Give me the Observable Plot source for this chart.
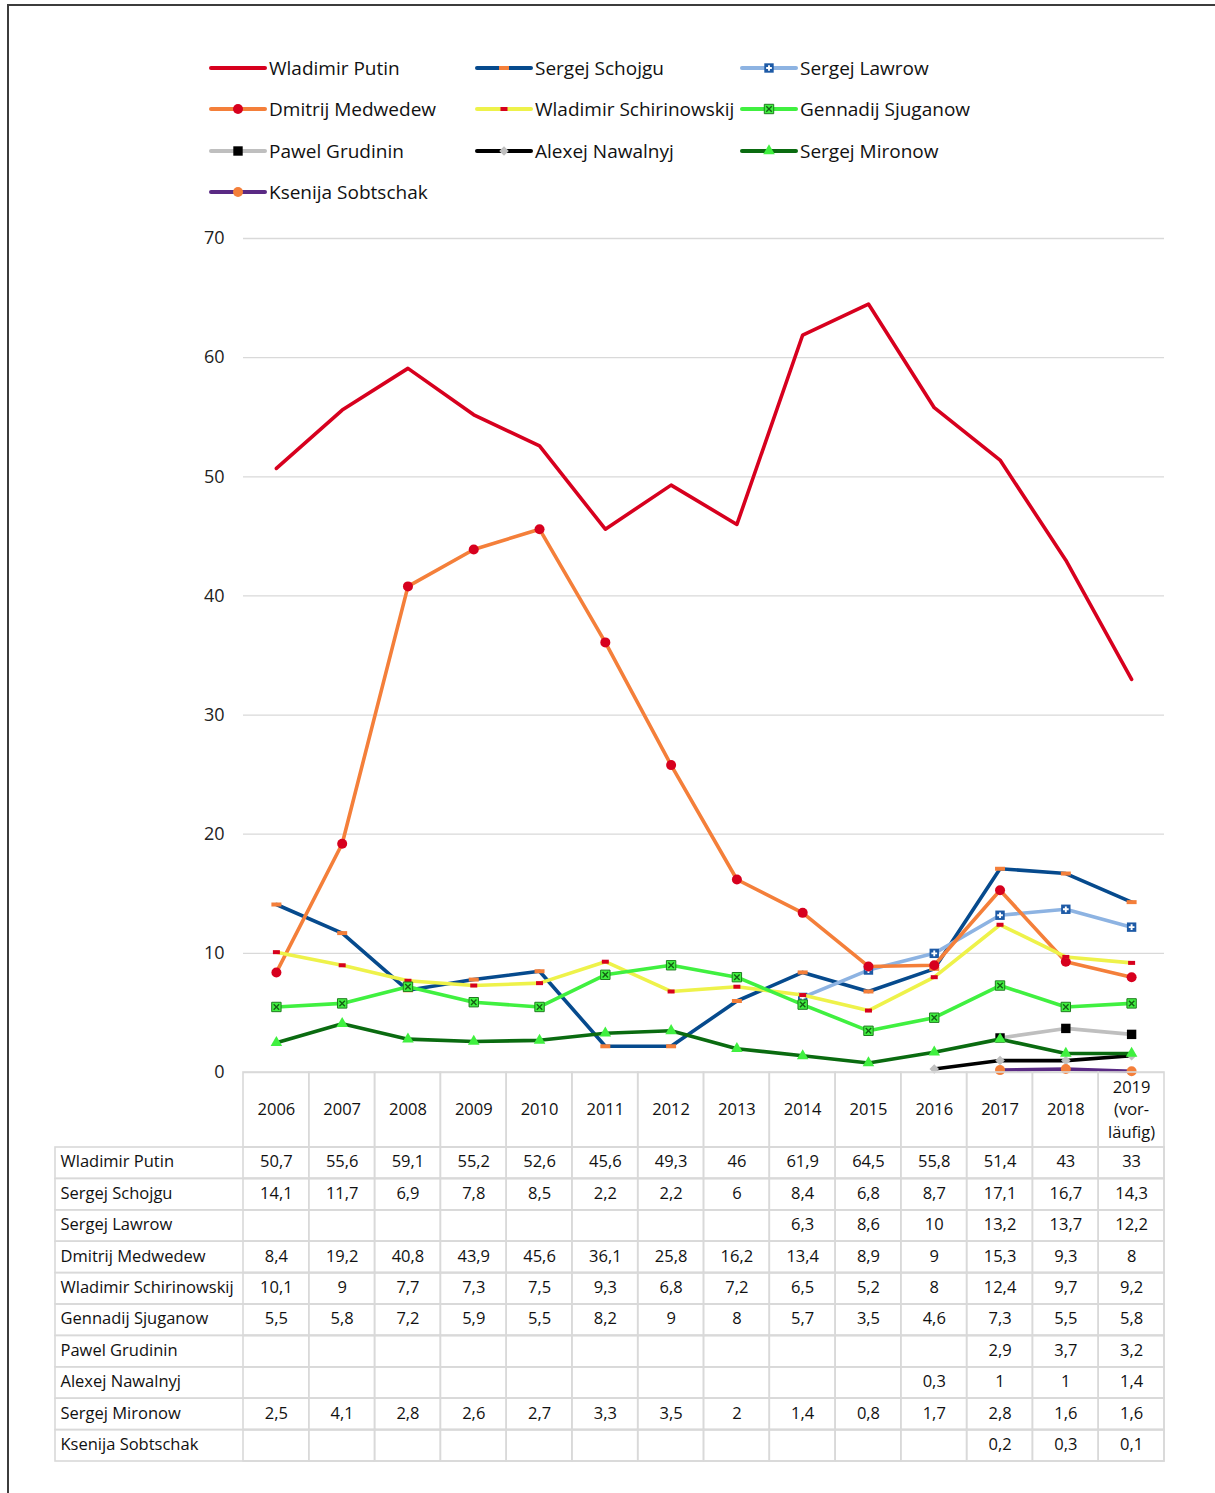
<!DOCTYPE html>
<html><head><meta charset="utf-8">
<script src="https://cdn.jsdelivr.net/npm/d3@7"></script>
<script src="https://cdn.jsdelivr.net/npm/@observablehq/plot@0.6"></script>
<style>
body{margin:0;background:#fff;font-family:"Open Sans",sans-serif;}
#root{position:relative;width:1215px;height:1493px;overflow:hidden;background:#fff;}
#frame{position:absolute;left:7px;top:4px;width:1300px;height:1600px;border-top:2px solid #3c3c3c;border-left:2px solid #3c3c3c;}
.legend-item{position:absolute;display:flex;align-items:center;height:26px;font-size:19px;color:#111;white-space:nowrap;}
.legend-item svg{margin-right:3px;overflow:visible;}
</style></head><body><div id="root"><div id="frame"></div></div>
<script>
// ---------- data ----------
const years = ["2006","2007","2008","2009","2010","2011","2012","2013","2014","2015","2016","2017","2018","2019"];
const yearLabels = ["2006","2007","2008","2009","2010","2011","2012","2013","2014","2015","2016","2017","2018","2019\n(vor-\nläufig)"];
const names = ["Wladimir Putin","Sergej Schojgu","Sergej Lawrow","Dmitrij Medwedew","Wladimir Schirinowskij","Gennadij Sjuganow","Pawel Grudinin","Alexej Nawalnyj","Sergej Mironow","Ksenija Sobtschak"];
const putin        = [50.7,55.6,59.1,55.2,52.6,45.6,49.3,46,61.9,64.5,55.8,51.4,43,33];
const schojgu      = [14.1,11.7,6.9,7.8,8.5,2.2,2.2,6,8.4,6.8,8.7,17.1,16.7,14.3];
const lawrow       = [null,null,null,null,null,null,null,null,6.3,8.6,10,13.2,13.7,12.2];
const medwedew     = [8.4,19.2,40.8,43.9,45.6,36.1,25.8,16.2,13.4,8.9,9,15.3,9.3,8];
const schirinowskij= [10.1,9,7.7,7.3,7.5,9.3,6.8,7.2,6.5,5.2,8,12.4,9.7,9.2];
const sjuganow     = [5.5,5.8,7.2,5.9,5.5,8.2,9,8,5.7,3.5,4.6,7.3,5.5,5.8];
const grudinin     = [null,null,null,null,null,null,null,null,null,null,null,2.9,3.7,3.2];
const nawalnyj     = [null,null,null,null,null,null,null,null,null,null,0.3,1,1,1.4];
const mironow      = [2.5,4.1,2.8,2.6,2.7,3.3,3.5,2,1.4,0.8,1.7,2.8,1.6,1.6];
const sobtschak    = [null,null,null,null,null,null,null,null,null,null,null,0.2,0.3,0.1];
const yTicks = [0,10,20,30,40,50,60,70];

// ---------- styles ----------
const allValues = [putin,schojgu,lawrow,medwedew,schirinowskij,sjuganow,grudinin,nawalnyj,mironow,sobtschak];
const dash = (w,h) => ({draw(ctx){ctx.rect(-w/2,-h/2,w,h);}});
const styles = [
  {color:"#d7001e", markers:[]},
  {color:"#064a8d", markers:[{symbol:dash(10,4), fill:"#f47f3a", r:4}]},
  {color:"#8db3e2", markers:[{symbol:"square", fill:"#1d5aa6", r:5.3},{symbol:"cross", fill:"#ffffff", r:2.4}]},
  {color:"#f47f3a", markers:[{symbol:"circle", fill:"#d7001e", r:5}]},
  {color:"#eef24a", markers:[{symbol:dash(7,4), fill:"#d7001e", r:4}]},
  {color:"#40f040", markers:[{symbol:"square", fill:"#40f040", stroke:"#1e7d1e", sw:1, r:5.3},{symbol:"times", fill:"none", stroke:"#146014", sw:1.4, r:2.6}]},
  {color:"#bfbfbf", markers:[{symbol:"square", fill:"#000000", r:5.3}]},
  {color:"#000000", markers:[{symbol:"diamond2", fill:"#bfbfbf", r:4.3}]},
  {color:"#0a6b10", markers:[{symbol:"triangle", fill:"#40f040", r:4.3}]},
  {color:"#5a2a84", markers:[{symbol:"circle", fill:"#f47f3a", r:5}]}
];
const symbolMap = {square:d3.symbolSquare, cross:d3.symbolCross, circle:d3.symbolCircle, times:d3.symbolTimes, diamond2:d3.symbolDiamond2, triangle:d3.symbolTriangle};

const root = document.getElementById("root");

// ---------- legend ----------
const legendCols = [210, 476, 741];
const legendRows = [68, 109, 151, 192];
names.forEach((n, i) => {
  const item = document.createElement("div");
  item.className = "legend-item";
  item.style.left = legendCols[i % 3] + "px";
  item.style.top = (legendRows[Math.floor(i / 3)] - 13) + "px";
  const svg = d3.create("svg").attr("width", 56).attr("height", 12);
  svg.append("line").attr("x1", 1).attr("x2", 55).attr("y1", 6).attr("y2", 6)
    .attr("stroke", styles[i].color).attr("stroke-width", 4).attr("stroke-linecap", "round");
  for (const m of styles[i].markers) {
    const t = typeof m.symbol === "string" ? symbolMap[m.symbol] : m.symbol;
    svg.append("path").attr("transform", "translate(28,6)")
      .attr("d", d3.symbol(t, Math.PI * m.r * m.r)())
      .attr("fill", m.fill).attr("stroke", m.stroke || "none").attr("stroke-width", m.sw || 0);
  }
  item.appendChild(svg.node());
  const span = document.createElement("span");
  span.textContent = n;
  item.appendChild(span);
  root.appendChild(item);
});

// ---------- main chart ----------
const long = [];
allValues.forEach((arr, si) => arr.forEach((v, yi) => { if (v != null) long.push({name: names[si], year: years[yi], value: v, si}); }));

const xScale = {type: "band", domain: years, range: [243, 1164], padding: 0, round: false, axis: null};
const chartMarks = [
  Plot.gridY(yTicks, {stroke: "#d9d9d9", strokeOpacity: 1, strokeWidth: 1.3}),
  Plot.axisY(yTicks, {tickSize: 0, tickPadding: 19, fontSize: 18, label: null, fill: "#222"})
];
names.forEach((n, si) => {
  const d = long.filter(e => e.si === si);
  chartMarks.push(Plot.line(d, {x: "year", y: "value", stroke: styles[si].color, strokeWidth: 3.6, strokeLinejoin: "round"}));
  for (const m of styles[si].markers) {
    chartMarks.push(Plot.dot(d, {x: "year", y: "value", symbol: m.symbol, r: m.r, fill: m.fill, stroke: m.stroke || "none", strokeWidth: m.sw || 0}));
  }
});
const chart = Plot.plot({
  width: 1215, height: 852, marginTop: 18, marginBottom: 0, marginLeft: 243, marginRight: 51,
  style: {fontFamily: "'Open Sans', sans-serif", overflow: "visible", background: "transparent"},
  x: xScale,
  y: {domain: [0, 70], axis: null},
  marks: chartMarks
});
chart.style.position = "absolute"; chart.style.left = "0px"; chart.style.top = "220px";
root.appendChild(chart);

// ---------- table header ----------
const header = Plot.plot({
  width: 1215, height: 75, marginTop: 0, marginBottom: 0, marginLeft: 243, marginRight: 51,
  style: {fontFamily: "'Open Sans', sans-serif", overflow: "visible", background: "transparent"},
  x: xScale,
  marks: [
    Plot.cell(years, {x: d => d, fill: "none", stroke: "#d9d9d9", strokeWidth: 1.6}),
    Plot.text(years, {x: d => d, text: (d, i) => yearLabels[i], fontSize: 16.5, lineHeight: 1.38, fill: "#111", dy: -2})
  ]
});
header.style.position = "absolute"; header.style.left = "0px"; header.style.top = "1072px";
root.appendChild(header);

// ---------- table body ----------
const cells = [];
names.forEach((n, si) => years.forEach((yr, yi) => cells.push({name: n, year: yr, value: allValues[si][yi]})));
const fmt = v => String(v).replace(".", ",");
const body = Plot.plot({
  width: 1215, height: 314, marginTop: 0, marginBottom: 0, marginLeft: 55, marginRight: 51,
  style: {fontFamily: "'Open Sans', sans-serif", overflow: "visible", background: "transparent"},
  x: xScale,
  y: {type: "band", domain: names, padding: 0, round: false, axis: null},
  marks: [
    Plot.cell(names, {y: d => d, fill: "none", stroke: "#d9d9d9", strokeWidth: 1.6}),
    Plot.cell(cells, {x: "year", y: "name", fill: "none", stroke: "#d9d9d9", strokeWidth: 1.6}),
    Plot.text(cells.filter(c => c.value != null), {x: "year", y: "name", text: c => fmt(c.value), fontSize: 16.5, fill: "#111", dy: -1}),
    Plot.text(names, {y: d => d, text: d => d, frameAnchor: "left", textAnchor: "start", dx: 5, fontSize: 16.5, fill: "#111", dy: -1})
  ]
});
body.style.position = "absolute"; body.style.left = "0px"; body.style.top = "1147px";
root.appendChild(body);
</script></body></html>
